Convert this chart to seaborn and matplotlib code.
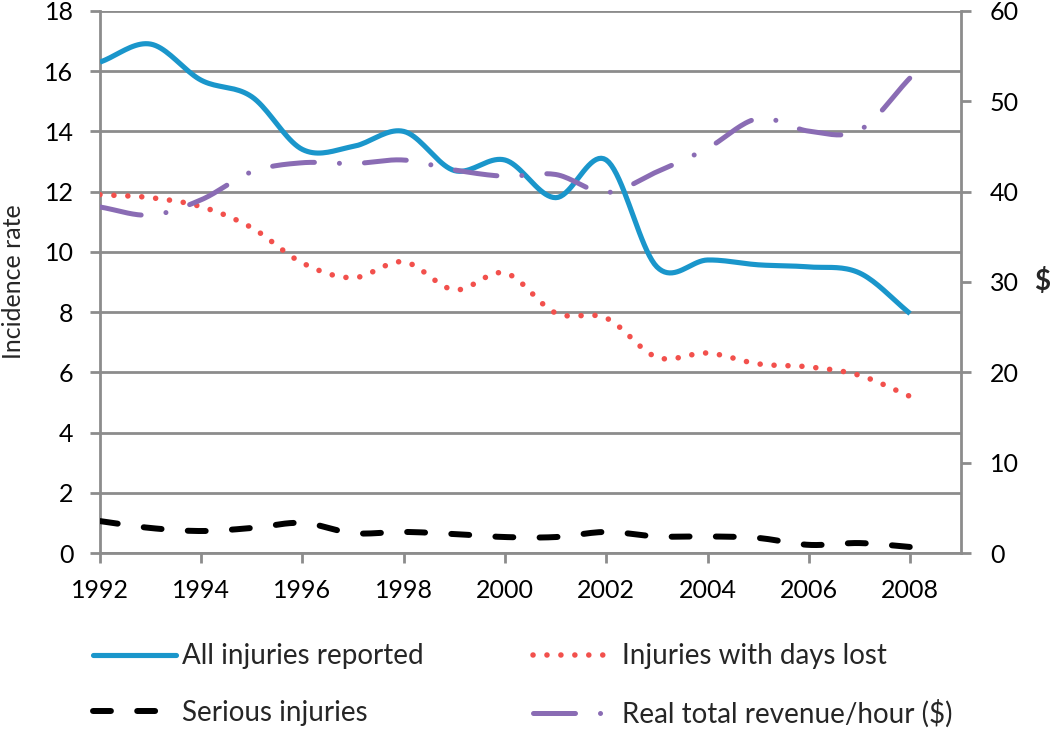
import numpy as np
import pandas as pd
import matplotlib
matplotlib.use("Agg")
import matplotlib.pyplot as plt
import seaborn as sns
from matplotlib.lines import Line2D

years = list(range(1992, 2009))
all_injuries = [16.3, 16.9, 15.7, 15.15, 13.4, 13.5, 14.0, 12.7, 13.05, 11.8, 13.05, 9.5, 9.73, 9.57, 9.5, 9.3, 7.95]
days_lost = [11.9, 11.8, 11.5, 10.8, 9.63, 9.14, 9.67, 8.74, 9.3, 7.97, 7.8, 6.5, 6.64, 6.28, 6.18, 5.9, 5.2]
serious = [1.06, 0.83, 0.73, 0.83, 1.0, 0.66, 0.7, 0.63, 0.53, 0.53, 0.7, 0.55, 0.55, 0.5, 0.27, 0.33, 0.2]
revenue = [38.3, 37.4, 39.1, 42.2, 43.2, 43.1, 43.5, 42.4, 41.7, 41.9, 39.9, 42.2, 44.8, 48.1, 46.7, 46.8, 52.6]

labels = ["All injuries reported", "Injuries with days lost", "Serious injuries", "Real total revenue/hour ($)"]
left_ticks = list(range(0, 20, 2))
right_ticks = list(range(0, 70, 10))
x_ticks = list(range(1992, 2010, 2))

C_BLUE = "#1a96cb"
C_RED = "#f2504c"
C_BLACK = "#000000"
C_PURPLE = "#8a6cb4"
GRID = "#8c8c8c"

RED_D = (0.01, 2.5)
BLK_D = (3.0, 4.4)
PUR_D = (8.4, 5.0, 0.01, 5.0)


def smooth(x, y, n=20):
    # Excel-style smoothed line (Bezier through the data points) used only for drawing
    x = np.asarray(x, float)
    y = np.asarray(y, float)
    px = np.concatenate([[2 * x[0] - x[1]], x, [2 * x[-1] - x[-2]]])
    py = np.concatenate([[2 * y[0] - y[1]], y, [2 * y[-1] - y[-2]]])
    xs, ys = [], []
    for i in range(1, len(px) - 2):
        p0, p1, p2, p3 = (np.array([px[j], py[j]]) for j in range(i - 1, i + 3))
        c1 = p1 + (p2 - p0) / 6
        c2 = p2 - (p3 - p1) / 6
        t = np.linspace(0, 1, n, endpoint=(i == len(px) - 3))[:, None]
        b = (1 - t) ** 3 * p1 + 3 * (1 - t) ** 2 * t * c1 + 3 * (1 - t) * t ** 2 * c2 + t ** 3 * p2
        xs.append(b[:, 0])
        ys.append(b[:, 1])
    return np.concatenate(xs), np.concatenate(ys)


sns.set_theme(style="white")
plt.rcParams["font.family"] = ["Lato", "DejaVu Sans"]

fig = plt.figure(figsize=(10.5, 7.31), dpi=100)
ax = fig.add_axes([0.0952, 0.2435, 0.8198, 0.7415])
ax2 = ax.twinx()


def draw(axis, y, color, lw, dashes=None, z=3):
    sx, sy = smooth(years, y)
    df = pd.DataFrame({"x": sx, "y": sy})
    sns.lineplot(data=df, x="x", y="y", ax=axis, color=color, linewidth=lw, sort=False,
                 legend=False, zorder=z)
    line = axis.lines[-1]
    if dashes is not None:
        line.set_dashes(dashes)
    line.set_dash_capstyle("round")
    line.set_solid_capstyle("butt")
    return line


draw(ax, all_injuries, C_BLUE, 3.7, z=4)
draw(ax, days_lost, C_RED, 4.0, dashes=RED_D, z=3)
draw(ax, serious, C_BLACK, 4.3, dashes=BLK_D, z=3)
draw(ax2, revenue, C_PURPLE, 3.6, dashes=PUR_D, z=3)

ax.set_xlim(1992, 2009)
ax.set_ylim(0, 18)
ax2.set_ylim(0, 60)
ax.set_xticks(x_ticks)
ax.set_xticklabels([str(t) for t in x_ticks])
ax.set_yticks(left_ticks)
ax2.set_yticks(right_ticks)

ax.grid(axis="y", color=GRID, linewidth=2.0)
ax.grid(axis="x", visible=False)
ax2.grid(False)
ax.set_axisbelow(True)

for a in (ax, ax2):
    for s in a.spines.values():
        s.set_visible(False)
ax.spines["left"].set_visible(True)
ax.spines["bottom"].set_visible(True)
ax2.spines["right"].set_visible(True)
for sp in (ax.spines["left"], ax.spines["bottom"], ax2.spines["right"]):
    sp.set_color(GRID)
    sp.set_linewidth(2.0)

ax.tick_params(axis="both", which="major", direction="out", length=7, width=2.0, color=GRID,
               labelsize=18, labelcolor="#000000")
ax.tick_params(axis="x", pad=12, bottom=True)
ax.tick_params(axis="y", pad=12, left=True)
ax2.tick_params(axis="y", direction="out", length=7, width=2.0, color=GRID, labelsize=18,
                labelcolor="#000000", pad=14, right=True)

ax.set_xlabel("")
ax.set_ylabel("Incidence rate", fontsize=18, va="center")
ax.yaxis.set_label_coords(-0.100, 0.5)
ax2.set_ylabel("$", fontsize=20, fontweight="bold", rotation=0, va="center", ha="center")
ax2.yaxis.set_label_coords(1.095, 0.5)

handles = [
    Line2D([0], [0], color=C_BLUE, lw=3.7, solid_capstyle="round"),
    Line2D([0], [0], color=C_BLACK, lw=4.3, dashes=BLK_D, dash_capstyle="round"),
    Line2D([0], [0], color=C_RED, lw=4.0, dashes=RED_D, dash_capstyle="round"),
    Line2D([0], [0], color=C_PURPLE, lw=3.6, dashes=PUR_D, dash_capstyle="round"),
]
leg_labels = [labels[0], labels[2], labels[1], labels[3]]
fig.legend(handles, leg_labels, ncol=2, loc="center left", bbox_to_anchor=(0.075, 0.062),
           frameon=False, fontsize=20, handlelength=3.0, handletextpad=0.2,
           columnspacing=3.95, labelspacing=1.1, borderpad=0)

fig.savefig("out.png", dpi=100)
